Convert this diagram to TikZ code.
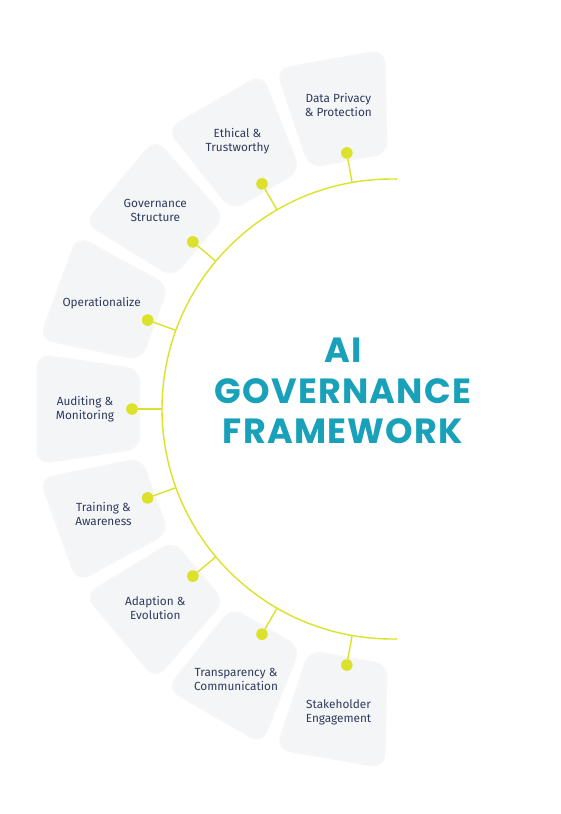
\documentclass[tikz,border=0pt]{standalone}
\usepackage{fontspec}
\setmainfont{Fira Sans}
\newfontfamily\titlefont[LetterSpace=3.5]{Poppins}
\usetikzlibrary{calc,positioning}
\definecolor{boxgray}{HTML}{F4F5F7}
\definecolor{navy}{HTML}{2F3B5B}
\definecolor{teal}{HTML}{18A1B9}
\definecolor{lime}{HTML}{DCE12A}
\tikzset{
  sector/.style={fill=boxgray,rounded corners=11pt,
    preaction={draw=black,opacity=0.035,line width=5pt,rounded corners=11pt}},
  rim/.style={draw=lime,line width=1.4pt},
  spoke/.style={draw=lime,line width=1.4pt},
  dot/.style={circle,fill=lime,minimum size=11.6pt,inner sep=0pt},
  topic/.style={align=center,text=navy,font=\fontsize{11.8}{14}\selectfont,inner sep=0pt}
}
% one rounded wedge of the ring, centred on angle #1
\newcommand{\govsector}[1]{%
  \path[sector] ({#1-8.5}:257) -- ({#1+8.5}:257) -- ({#1+8.5}:357) -- ({#1-8.5}:357) -- cycle;}

\begin{document}
\begin{tikzpicture}[x=1pt,y=1pt]
        \useasboundingbox[fill=white] (-392,-405) rectangle (168,409);

        \govsector{100} \govsector{120} \govsector{140}
        \govsector{160} \govsector{180} \govsector{200}
        \govsector{220} \govsector{240} \govsector{260}

        \draw[rim] (88.7:230) arc[start angle=88.7, end angle=271.3, radius=230];

        \node (T) at (-49, 18) [align=center,text=teal,
          font=\titlefont\bfseries\fontsize{35}{40.5}\selectfont] {AI\\GOVERNANCE\\FRAMEWORK};

        \node (P1) at (100:309) [topic] {Data Privacy\\\& Protection};
        \node (P2) at (120:309) [topic] {Ethical \&\\Trustworthy};
        \node (P3) at (140:309) [topic] {Governance\\Structure};
        \node (P4) at (160:309) [topic] {Operationalize};
        \node (P5) at (180:307) [topic] {Auditing \&\\Monitoring};
        \node (P6) at (200:307) [topic] {Training \&\\Awareness};
        \node (P7) at (220:309) [topic] {Adaption \&\\Evolution};
        \node (P8) at (240:312) [topic] {Transparency \&\\Communication};
        \node (P9) at (260:308) [topic] {Stakeholder\\Engagement};

        \coordinate (A1) at (100:230);
        \coordinate (A2) at (120:230);
        \coordinate (A3) at (140:230);
        \coordinate (A4) at (160:230);
        \coordinate (A5) at (180:230);
        \coordinate (A6) at (200:230);
        \coordinate (A7) at (220:230);
        \coordinate (A8) at (240:230);
        \coordinate (A9) at (260:230);

        \node (D1) at (100:260) [dot] {};
        \node (D2) at (120:260) [dot] {};
        \node (D3) at (140:260) [dot] {};
        \node (D4) at (160:260) [dot] {};
        \node (D5) at (180:260) [dot] {};
        \node (D6) at (200:260) [dot] {};
        \node (D7) at (220:260) [dot] {};
        \node (D8) at (240:260) [dot] {};
        \node (D9) at (260:260) [dot] {};

        \draw[spoke] (A1) -- (D1);
        \draw[spoke] (A2) -- (D2);
        \draw[spoke] (A3) -- (D3);
        \draw[spoke] (A4) -- (D4);
        \draw[spoke] (A5) -- (D5);
        \draw[spoke] (A6) -- (D6);
        \draw[spoke] (A7) -- (D7);
        \draw[spoke] (A8) -- (D8);
        \draw[spoke] (A9) -- (D9);
    \end{tikzpicture}
\end{document}
